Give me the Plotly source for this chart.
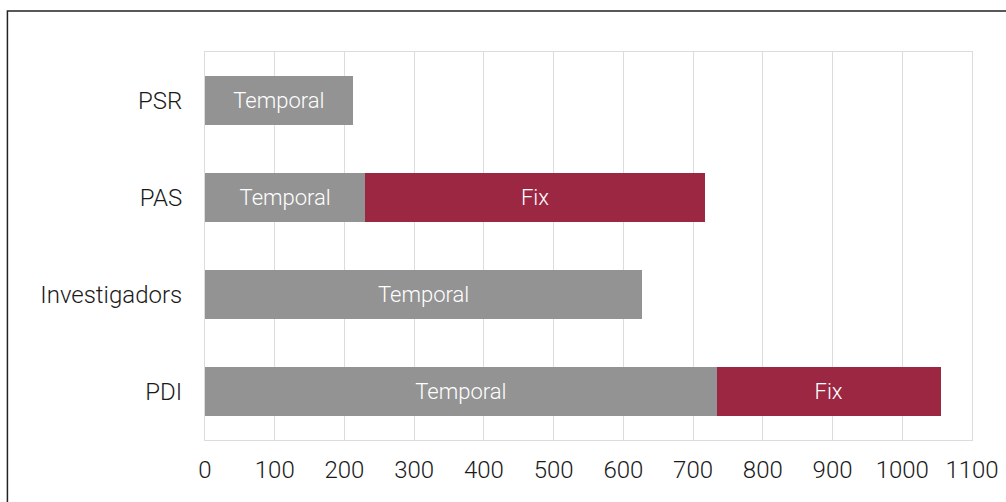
import plotly.graph_objects as go

categories = ["PSR", "PAS", "Investigadors", "PDI"]
temporal = [212, 230, 627, 734]
fix = [None, 487, None, 321]
temporal_labels = ["Temporal", "Temporal", "Temporal", "Temporal"]
fix_labels = ["", "Fix", "", "Fix"]
x_ticks = [0, 100, 200, 300, 400, 500, 600, 700, 800, 900, 1000, 1100]

FONT = "Roboto, Liberation Sans, Arial, sans-serif"
GRAY = "#939393"
RED = "#9b2743"
TXT = "#1a1a1a"

fig = go.Figure()
fig.add_trace(go.Bar(
    y=categories, x=temporal, orientation="h", name="Temporal",
    marker=dict(color=GRAY, line=dict(width=0)),
    text=temporal_labels, textposition="inside", insidetextanchor="middle",
    textangle=0, constraintext="none",
    textfont=dict(family=FONT, size=22, color="white", weight=300),
    width=0.5,
))
fig.add_trace(go.Bar(
    y=categories, x=fix, orientation="h", name="Fix",
    marker=dict(color=RED, line=dict(width=0)),
    text=fix_labels, textposition="inside", insidetextanchor="middle",
    textangle=0, constraintext="none",
    textfont=dict(family=FONT, size=22, color="white", weight=300),
    width=0.5,
))

fig.update_layout(
    barmode="stack",
    width=1006, height=502,
    margin=dict(l=205, r=34, t=52, b=62),
    paper_bgcolor="white", plot_bgcolor="white",
    showlegend=False,
    font=dict(family=FONT, size=24, color=TXT, weight=300),
    xaxis=dict(
        range=[0, 1100], tickvals=x_ticks, ticktext=[str(v) for v in x_ticks],
        showgrid=True, gridcolor="#dcdcdc", gridwidth=1,
        showline=True, linecolor="#dcdcdc", linewidth=1, mirror=True,
        zeroline=False, ticks="", ticklabelstandoff=8, automargin=False,
        tickfont=dict(family=FONT, size=24, color=TXT, weight=300),
        fixedrange=True,
    ),
    yaxis=dict(
        categoryorder="array", categoryarray=categories, autorange="reversed",
        showgrid=False,
        showline=True, linecolor="#dcdcdc", linewidth=1, mirror=True,
        ticks="", ticklabelstandoff=17, automargin=False,
        tickfont=dict(family=FONT, size=24, color=TXT, weight=300),
        fixedrange=True,
    ),
    shapes=[dict(
        type="rect", xref="paper", yref="paper",
        x0=-0.2576, x1=1.2, y0=-0.3, y1=1.1057,
        line=dict(color="#222222", width=1.5), fillcolor="rgba(0,0,0,0)",
        layer="above",
    )],
)

fig.write_html("out.html")
